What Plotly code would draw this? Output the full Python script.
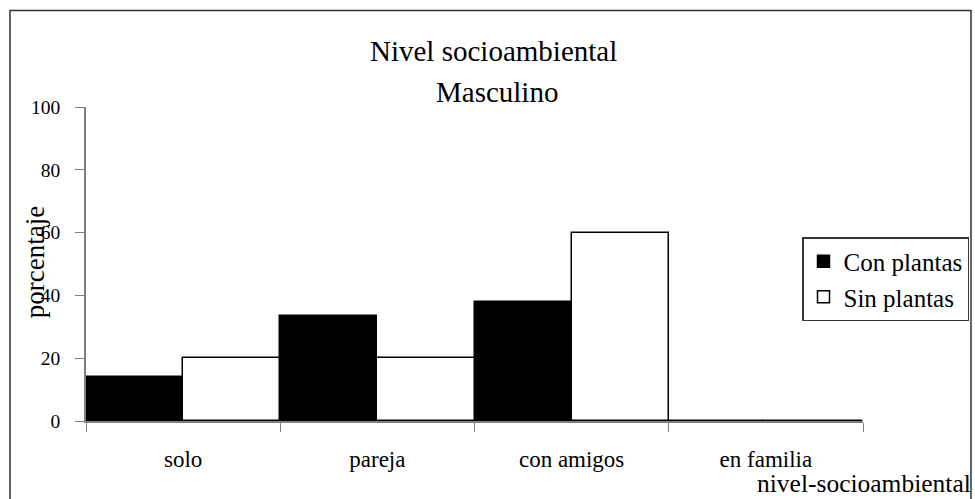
import plotly.graph_objects as go

categories = ["solo", "pareja", "con amigos", "en familia"]
con_plantas = [14.0, 33.3, 37.8, 0]
sin_plantas = [20.0, 20.0, 60.0, 0]
y_ticks = [0, 20, 40, 60, 80, 100]

FONT = "Liberation Serif, Times New Roman, serif"
FIG_W, FIG_H = 975, 499

# plot area in page pixels: x 86..863, y 106.7 (100) .. 421 (0)
L, R, T, B = 86, 863, 106.7, 421
W, H = R - L, B - T


def px_x(x):
    return (x - L) / W


def px_y(y):
    return (B - y) / H


fig = go.Figure()
fig.add_trace(go.Bar(
    x=categories, y=con_plantas, name="Con plantas",
    marker=dict(color="black", line=dict(color="black", width=1.5)),
))
fig.add_trace(go.Bar(
    x=categories, y=sin_plantas, name="Sin plantas",
    marker=dict(color="white", line=dict(color="black", width=1.5)),
))

fig.update_layout(
    width=FIG_W, height=FIG_H,
    margin=dict(l=L, r=FIG_W - R, t=T, b=FIG_H - B, pad=0, autoexpand=False),
    paper_bgcolor="white", plot_bgcolor="white",
    font=dict(family=FONT, color="black", size=20),
    barmode="group", bargap=0, bargroupgap=0,
    showlegend=True,
    legend=dict(
        xref="container", yref="container",
        x=802 / FIG_W, y=1 - 237 / FIG_H, xanchor="left", yanchor="top",
        bordercolor="#333333", borderwidth=1.5, bgcolor="white",
        font=dict(size=25, family=FONT), tracegroupgap=2,
    ),
    xaxis=dict(
        showline=True, linecolor="#808080", linewidth=1.5,
        ticks="outside", tickson="boundaries", ticklen=9, tickcolor="#808080",
        tickfont=dict(size=23, family=FONT), showgrid=False,
        ticklabelstandoff=17,
    ),
    yaxis=dict(
        range=[0, 100], tickvals=y_ticks, showline=True, linecolor="#808080",
        linewidth=1.5, ticks="outside", ticklen=9, tickcolor="#808080",
        tickfont=dict(size=19.5, family=FONT), showgrid=False, zeroline=False,
        ticklabelstandoff=11,
    ),
    annotations=[
        dict(text="Nivel socioambiental", xref="paper", yref="paper",
             x=px_x(493), y=px_y(51), xanchor="center", yanchor="middle",
             showarrow=False, font=dict(size=29, family=FONT)),
        dict(text="Masculino", xref="paper", yref="paper",
             x=px_x(497), y=px_y(92), xanchor="center", yanchor="middle",
             showarrow=False, font=dict(size=29, family=FONT)),
        dict(text="porcentaje", xref="paper", yref="paper",
             x=px_x(35), y=px_y(262), xanchor="center",
             yanchor="middle", textangle=-90, showarrow=False,
             font=dict(size=27, family=FONT)),
        dict(text="nivel-socioambiental", xref="paper", yref="paper",
             x=px_x(973), y=px_y(484), xanchor="right",
             yanchor="middle", showarrow=False,
             font=dict(size=25.5, family=FONT)),
    ],
    shapes=[
        dict(type="rect", xref="paper", yref="paper",
             x0=px_x(10), x1=px_x(971), y0=px_y(520), y1=px_y(10),
             line=dict(color="#333333", width=1.5)),
    ],
)

fig.write_html(
    "out.html",
    config={"displayModeBar": False, "responsive": False},
    post_script="document.body.style.margin='0';",
)
